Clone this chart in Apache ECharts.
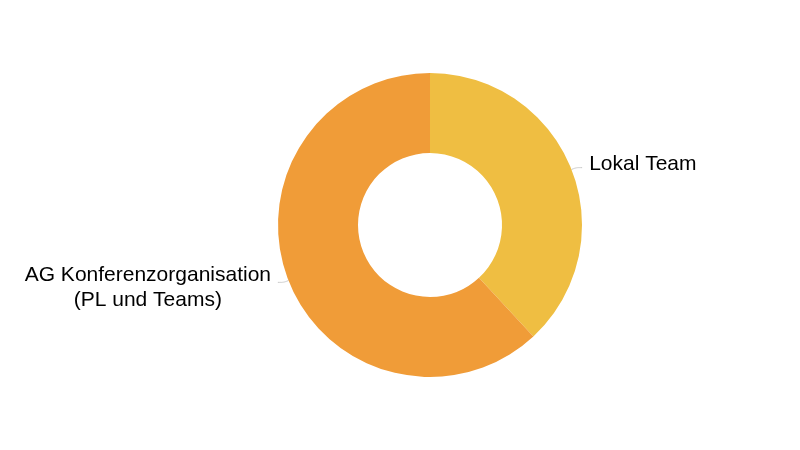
<!DOCTYPE html>
<html>
<head>
<meta charset="utf-8">
<script src="https://cdn.jsdelivr.net/npm/echarts@6/dist/echarts.min.js"></script>
<style>html,body{margin:0;padding:0;background:#fff}#c{width:800px;height:450px}</style>
</head>
<body>
<div id="c"></div>
<script>
const categories = ["Lokal Team", "AG Konferenzorganisation\n(PL und Teams)"];
const values = [8, 13];
const colors = ["#EFBE42", "#F09C38"];

const FONT = 'Liberation Sans, Arial, sans-serif';
const chart = echarts.init(document.getElementById('c'), null, {renderer: 'canvas'});
chart.setOption({
  animation: false,
  series: [{
    type: 'pie',
    center: [430, 225],
    radius: [72, 152],
    startAngle: 90,
    clockwise: true,
    avoidLabelOverlap: false,
    data: categories.map((n, i) => ({
      name: n,
      value: values[i],
      itemStyle: {color: colors[i]},
      label: {padding: i === 0 ? [0, 0, 6, 0] : [10, 0, 0, 0]}
    })),
    label: {
      show: true,
      formatter: function (p) {
        const lines = p.name.split('\n');
        if (lines.length === 1) return '{s|' + lines[0] + '}';
        return lines.map(s => '{m|' + s + '}').join('\n');
      },
      color: '#000',
      fontFamily: FONT,
      fontSize: 21,
      lineHeight: 25,
      distanceToLabelLine: 7,
      rich: {
        s: {fontSize: 21, lineHeight: 25, color: '#000', fontFamily: FONT},
        m: {fontSize: 21, lineHeight: 25, color: '#000', fontFamily: FONT, width: 246, align: 'center'}
      }
    },
    labelLine: {
      show: true,
      length: 5,
      length2: 6,
      smooth: true,
      lineStyle: {color: '#c8c8c8', width: 1}
    },
    emphasis: {disabled: true}
  }]
});
</script>
</body>
</html>
